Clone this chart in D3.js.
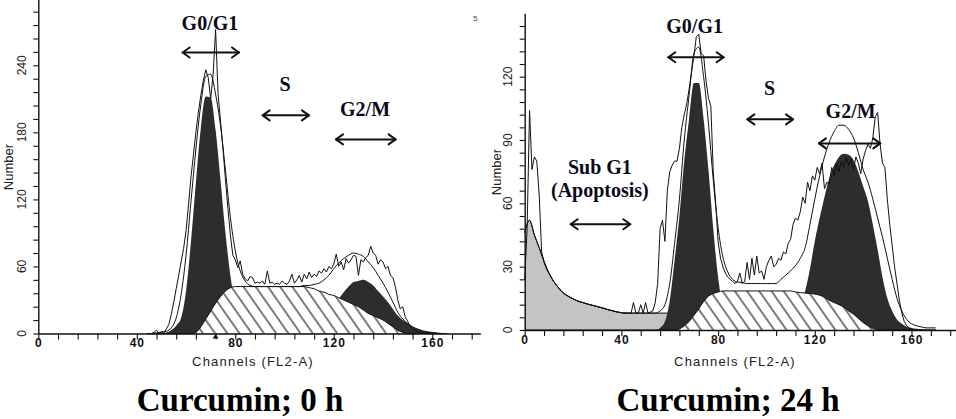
<!DOCTYPE html>
<html>
<head>
<meta charset="utf-8">
<script src="https://cdn.jsdelivr.net/npm/d3@7/dist/d3.min.js"></script>
<style>
html,body{margin:0;padding:0;background:#fff;}
svg{display:block;}
</style>
</head>
<body>
<svg id="chart" width="956" height="419"></svg>
<script>
// ---------------- DATA ----------------
const titles = ["Curcumin; 0 h", "Curcumin; 24 h"];
const phaseNames = ["G0/G1", "S", "G2/M", "Sub G1", "(Apoptosis)"];
const xAxisTitle = "Channels (FL2-A)";
const yAxisTitle = "Number";

const xTickLabels = [0, 40, 80, 120, 160];
const xMinorTicks = [0,8,16,24,32,40,48,56,64,72,80,88,96,104,112,120,128,136,144,152,160,168,176];
const leftYTickLabels = [0, 60, 120, 180, 240];
const leftYMinorTicks = [0,12,24,36,48,60,72,84,96,108,120,132,144,156,168,180,192,204,216,228,240,252,264,276,288];
const rightYTickLabels = [0, 30, 60, 90, 120];
const rightYMinorTicks = [0,6,12,18,24,30,36,42,48,54,60,66,72,78,84,90,96,102,108,114,120,126,132,138,144];

// Left panel (0 h): model components on a channel grid
const leftChannels = [46,48,50,52,54,56,58,60,62,64,66,68,70,72,74,76,78,80,82,84,86,88,90,92,94,96,98,100,102,104,106,108,110,112,114,116,118,120,122,124,126,128,130,132,134,136,138,140,142,144,146,148,150,152,154,156,158,160,162,164,166];
const leftG1 = [0,0,0.5,1,3,7,14,38,82,135,184,212,211,182,137,90,52,26,11,4,1,0,
  0,0,0,0,0,0,0,0,0,0, 0,0,0,0,0,0,0,0,0,0, 0,0,0,0,0,0,0,0,0,0, 0,0,0,0,0,0,0,0,0];
const leftS = [0,0,0,0,0,0,0,0,0, 1,6,13,20,27,33,38,41,42,
  42,42,42,42,42,42,42,42,42,42,42,42,42,42,
  41,40,38,37,35,34,32,30,28,26,24,21,18,16,14,12,9,6,3,1,
  0,0,0,0,0,0,0,0,0];
const leftG2 = [0,0,0,0,0,0,0,0,0,0, 0,0,0,0,0,0,0,0,0,0, 0,0,0,0,0,0,0,0,0,0, 0,
  1,2,4,7,11,17,24,31,37,42,46,47,48,46,43,38,33,28,22,16,12,9,6,4,2.5,1.5,1,0.5,0,0];
const leftModel = [0,0.5,1,2,5,14,35,70,118,165,205,230,232,214,186,146,104,74,56,47,43,42,
  42,42,42,42,42,42,42,42,42,
  43,43,44,45,48,52,58,63,67,70,72,71,69,64,59,52,45,37,28,19,13,9,6,4,2.5,1.5,1,0.5,0,0];
// Left panel raw histogram, one value per channel starting at channel 44
const leftRawStart = 44;
const leftRaw = [0,0,0,1,3,0,2,1,4,8,
  17,28,40,52,64,76,92,115,140,160,
  180,198,213,226,236,229,210,232,272,214,
  190,165,138,112,88,70,66,59,65,53,
  49,47,51,50,45,46,45,47,44,56,
  45,46,44,45,44,47,45,44,47,53,
  45,48,52,46,53,49,55,50,53,51,
  56,54,58,55,60,58,62,71,60,64,
  57,67,63,66,70,69,52,66,64,68,
  70,78,72,70,62,66,64,58,60,52,
  50,42,30,22,24,15,11,6,4,3,
  2,1,1,0,1,0,0];
const leftMarkerChannel = 72;

// Right panel (24 h): model components on a channel grid
const rightChannels = [0,2,4,6,8,10,12,14,16,18,20,22,24,26,28,30,32,34,36,38,40,42,44,46,48,50,52,54,56,58,60,62,64,66,68,70,72,74,76,78,80,82,84,86,88,90,92,94,96,98,100,102,104,106,108,110,112,114,116,118,120,122,124,126,128,130,132,134,136,138,140,142,144,146,148,150,152,154,156,158,160,162,164,166,168,170];
const rightDebris = [46,52,45,39,32.5,27,23,20,17.5,16,14.8,13.7,13,12.3,11.7,11.1,10.5,9.8,9.2,8.6,8.2,
  8,8,8,8,8,8,8,8,8,8,8,
  0,0,0,0,0,0,0,0,0,0, 0,0,0,0,0,0,0,0,0,0, 0,0,0,0,0,0,0,0,0,0, 0,0,0,0,0,0,0,0,0,0, 0,0,0,0,0,0,0,0,0,0, 0,0,0,0];
const rightG1 = [0,0,0,0,0,0,0,0,0,0, 0,0,0,0,0,0,0,0,0,0, 0,0,0,0,0,0,0,
  0,1,4,14,33,54,80,100,117,117,100,76,48,25,11,4,1,
  0,0,0,0,0,0,0,0,0,0, 0,0,0,0,0,0,0,0,0,0, 0,0,0,0,0,0,0,0,0,0, 0,0,0,0,0,0,0,0,0,0, 0,0];
const rightS = [0,0,0,0,0,0,0,0,0,0, 0,0,0,0,0,0,0,0,0,0, 0,0,0,0,0,0,0,0,0,0, 0,0,
  0.5,2,4,7,10,13.5,16,17.3,18,
  18.5,18.5,18.5,18.5,18.5,18.5,18.5,18.5,18.5,18.5,18.5,18.5,18.5,18.5,18.5,
  18,17.7,17.5,17.3,17,16.5,15.5,14,13,12,10.8,9,7.5,5.5,3.5,2,0.8,
  0,0,0,0,0,0,0,0,0,0,0,0,0];
const rightG2 = [0,0,0,0,0,0,0,0,0,0, 0,0,0,0,0,0,0,0,0,0, 0,0,0,0,0,0,0,0,0,0, 0,0,0,0,0,0,0,0,0,0, 0,0,0,0,0,0,0,0,0,0, 0,0,0,
  2,4,6,9,13,18.5,29,42,53,63,72,78,82,83.5,83,80.5,75,68,61,50,38,25,15,9,5,3,1.5,1,0.6,0.3,0,0,0];
const rightModel = [46,52,45,39,32.5,27,23,20,17.5,16,14.8,13.7,13,12.3,11.7,11.1,10.5,9.8,9.2,8.6,8.2,8,8,8,8,8,8,8,
  9,12,22,41,62,90,111,131,134,120,98,71,48.5,34.5,27.5,24,22.7,22.5,22,22,22,22,22,22,22,
  24,26,28,30.5,34,39,50,62,73,82,89,94,97,97,95,91,84,76,70,62,53,44,34,24,15,9,5,3,2,1.5,1,1,1];
// Right panel raw histogram, one value per channel starting at channel 0
const rightRawStart = 0;
const rightRaw = [24,48,104,76,82,80,64,37,32,29,
  27,25,23,21.5,20,18.5,17.5,16.8,16,15.2,
  14.8,14.2,13.7,13.3,13,12.6,12.3,12,11.7,11.4,
  11.1,10.8,10.5,10.2,9.8,9.5,9.2,8.9,8.6,8.4,
  8.2,8,8,8,8,13,8,8,12,8,
  13,8,8.5,9,13,22,48,52,42,66,
  75,78,80,80,86,96,102,107,114,122,
  130,139,140,131,130,118,110,106,75,60,
  42,34,30,27,25,24,23,22,23,27,
  22,23,32,24,34,26,35,27,28,24,
  30,33,35,30,31,34,33,37,36,41,
  43,50,53,52,56,63,60,70,66,73,
  71,77,74,79,67,70,69,77,73,79,
  75,80,77,82,78,81,76,82,79,74,
  81,85,88,86,91,101,103,88,79,77,
  62,50,40,30,22,14,8,4,2,1,
  0];

// ---------------- LAYOUT ----------------
const panels = [
  {
    xLeft: 38.3, pxPerCh: 2.4625, xEnd: 179.5,
    yBase: 333.5, pxPerV: 1.1175, yMax: 300,
    yMinor: leftYMinorTicks, yLabels: leftYTickLabels,
    channels: leftChannels, debris: null, g1: leftG1, s: leftS, g2: leftG2, model: leftModel,
    rawStart: leftRawStart, raw: leftRaw,
    title: titles[0], titleX: 240, numberX: 13, numberY: 167, channelsX: 253,
    labels: [[phaseNames[0], 69.7, 271.8], [phaseNames[1], 100.2, 217], [phaseNames[2], 132.7, 194.6]],
    arrows: [[58.2, 81.9, 251.4], [90.7, 110.3, 195.2], [120.5, 145.5, 173.7]],
    marker: leftMarkerChannel
  },
  {
    xLeft: 524.7, pxPerCh: 2.4175, xEnd: 178.5,
    yBase: 330, pxPerV: 2.111, yMax: 150,
    yMinor: rightYMinorTicks, yLabels: rightYTickLabels,
    channels: rightChannels, debris: rightDebris, g1: rightG1, s: rightS, g2: rightG2, model: rightModel,
    rawStart: rightRawStart, raw: rightRaw,
    title: titles[1], titleX: 728, numberX: 501, numberY: 172, channelsX: 735,
    labels: [[phaseNames[0], 70.3, 140.5], [phaseNames[1], 101.3, 111.3], [phaseNames[2], 134.8, 100.3],
             [phaseNames[3], 31.1, 73.9], [phaseNames[4], 31.1, 63.1]],
    arrows: [[59, 82.7, 129.2], [91.7, 111.4, 99.8], [121.3, 147.5, 88.4], [18.6, 44.1, 50.1]],
    marker: null
  }
];

const SANS = '"Liberation Sans", Arial, Helvetica, sans-serif';
const SERIF = '"Liberation Serif", "Times New Roman", Times, serif';
const INK = '#111';

const svg = d3.select('#chart');
svg.append('rect').attr('width', 956).attr('height', 419).attr('fill', '#fff');
const defs = svg.append('defs');
const pat = defs.append('pattern').attr('id', 'hatch').attr('patternUnits', 'userSpaceOnUse')
  .attr('width', 10).attr('height', 10).attr('patternTransform', 'rotate(-35)');
pat.append('rect').attr('width', 10).attr('height', 10).attr('fill', '#fff');
pat.append('line').attr('x1', 5).attr('y1', -1).attr('x2', 5).attr('y2', 11)
  .attr('stroke', INK).attr('stroke-width', 1.1);

panels.forEach(p => {
  const g = svg.append('g');
  const x = d3.scaleLinear().domain([0, p.xEnd]).range([p.xLeft, p.xLeft + p.xEnd * p.pxPerCh]);
  const y = d3.scaleLinear().domain([0, p.yMax]).range([p.yBase, p.yBase - p.yMax * p.pxPerV]);
  const pts = arr => p.channels.map((c, i) => ({ c, v: arr[i] }));
  const area = d3.area().x(d => x(d.c)).y0(y(0)).y1(d => y(d.v)).curve(d3.curveMonotoneX);
  const smooth = d3.line().x(d => x(d.c)).y(d => y(d.v)).curve(d3.curveMonotoneX);

  if (p.debris) {
    g.append('path').attr('d', area(pts(p.debris))).attr('fill', '#c4c4c4');
    g.append('path').attr('d', smooth(pts(p.debris))).attr('fill', 'none').attr('stroke', INK).attr('stroke-width', 1);
  }
  g.append('path').attr('d', area(pts(p.g1))).attr('fill', '#2d2d2d');
  g.append('path').attr('d', area(pts(p.g2))).attr('fill', '#2d2d2d');
  g.append('path').attr('d', area(pts(p.s))).attr('fill', 'url(#hatch)');
  g.append('path').attr('d', smooth(pts(p.s))).attr('fill', 'none').attr('stroke', INK).attr('stroke-width', 1);
  g.append('path').attr('d', smooth(pts(p.model))).attr('fill', 'none').attr('stroke', INK).attr('stroke-width', 1);

  const raw = p.raw.map((v, i) => ({ c: p.rawStart + i, v }));
  g.append('path').attr('d', d3.line().x(d => x(d.c)).y(d => y(d.v))(raw))
    .attr('fill', 'none').attr('stroke', INK).attr('stroke-width', 1);

  // Axes
  const xAxis = d3.axisBottom(x).tickValues(xMinorTicks).tickSize(6).tickSizeOuter(0)
    .tickFormat(d => xTickLabels.includes(d) ? String(d) : '');
  const gx = g.append('g').attr('transform', `translate(0,${p.yBase})`).call(xAxis);
  gx.select('.domain').attr('stroke', INK).attr('stroke-width', 1.4);
  gx.selectAll('.tick line').attr('stroke', INK).attr('stroke-width', 1.1);
  gx.selectAll('.tick text').attr('y', 5).attr('font-family', SANS).attr('font-size', 12)
    .attr('font-weight', 'bold').attr('letter-spacing', 1).attr('fill', INK);

  const yAxis = d3.axisLeft(y).tickValues(p.yMinor).tickSize(5).tickSizeOuter(0).tickFormat('');
  const gy = g.append('g').attr('transform', `translate(${p.xLeft},0)`).call(yAxis);
  gy.select('.domain').attr('stroke', INK).attr('stroke-width', 1.4);
  gy.selectAll('.tick line').attr('stroke', INK).attr('stroke-width', 1.1);
  g.selectAll('.ylab').data(p.yLabels).join('text').attr('class', 'ylab')
    .attr('transform', d => `translate(${p.xLeft - 12.5},${y(d)}) rotate(-90)`)
    .attr('text-anchor', 'middle').attr('font-family', SANS).attr('font-size', 12)
    .attr('fill', '#222').text(d => d);

  if (p.marker !== null) {
    const mx = x(p.marker);
    g.append('path').attr('d', `M${mx - 3},${p.yBase + 5} L${mx + 3},${p.yBase + 5} L${mx},${p.yBase + 0.5} Z`)
      .attr('fill', INK);
  }

  // Axis titles
  g.append('text').attr('transform', `translate(${p.numberX},${p.numberY}) rotate(-90)`)
    .attr('text-anchor', 'middle').attr('font-family', SANS).attr('font-size', 13)
    .attr('fill', '#222').text(yAxisTitle);
  g.append('text').attr('x', p.channelsX).attr('y', 366).attr('text-anchor', 'middle')
    .attr('font-family', SANS).attr('font-size', 13).attr('letter-spacing', 1.2)
    .attr('fill', '#222').text(xAxisTitle);

  // Panel title
  g.append('text').attr('x', p.titleX).attr('y', 411).attr('text-anchor', 'middle')
    .attr('font-family', SERIF).attr('font-size', 33).attr('font-weight', 'bold')
    .attr('fill', '#000').text(p.title);

  // Phase labels and arrows
  p.labels.forEach(([t, c, v]) => {
    g.append('text').attr('x', x(c)).attr('y', y(v)).attr('text-anchor', 'middle')
      .attr('font-family', SERIF).attr('font-size', 20).attr('font-weight', 'bold')
      .attr('fill', '#0a0a1a').text(t);
  });
  p.arrows.forEach(([c1, c2, v]) => {
    const x1 = x(c1), x2 = x(c2), yy = y(v);
    const a = g.append('g').attr('stroke', INK).attr('stroke-width', 2).attr('fill', 'none')
      .attr('stroke-linecap', 'round').attr('stroke-linejoin', 'round');
    a.append('line').attr('x1', x1 + 1).attr('x2', x2 - 1).attr('y1', yy).attr('y2', yy);
    a.append('path').attr('d', `M${x1 + 8},${yy - 5} L${x1 + 1},${yy} L${x1 + 8},${yy + 5}`);
    a.append('path').attr('d', `M${x2 - 8},${yy - 5} L${x2 - 1},${yy} L${x2 - 8},${yy + 5}`);
  });
});

// small stray glyph at the top right of the left panel
svg.append('text').attr('x', 473).attr('y', 20.5).attr('font-family', SANS).attr('font-size', 8)
  .attr('fill', '#444').text('5');
</script>
</body>
</html>
